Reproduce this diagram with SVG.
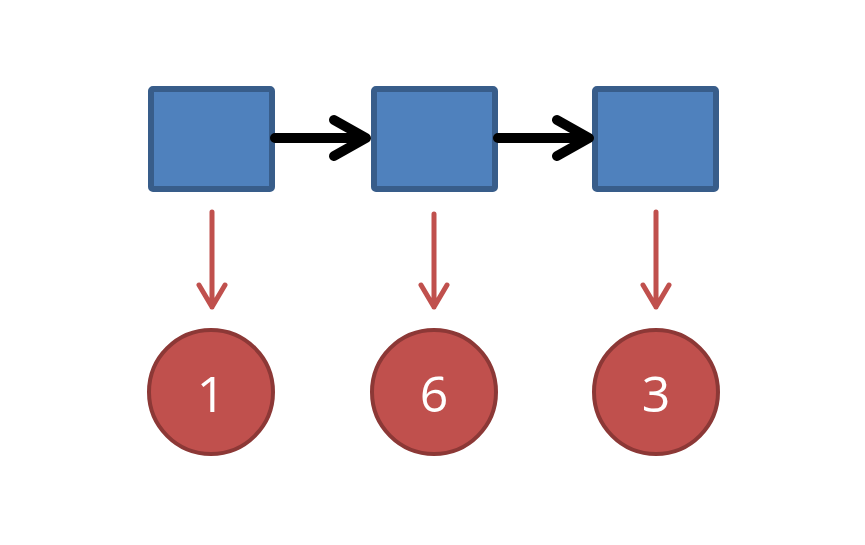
<svg xmlns="http://www.w3.org/2000/svg" width="865" height="545" viewBox="0 0 865 545">
<style>
.box{fill:#4F81BD;stroke:#385D8A;stroke-width:6;}
.circ{fill:#C0504D;stroke:#8C3836;stroke-width:4;}
.lbl{fill:#fff;font-family:"Open Sans","Liberation Sans",sans-serif;font-size:50px;text-anchor:middle;}
.blk{stroke:#000;stroke-width:10;fill:none;stroke-linecap:round;stroke-linejoin:round;}
.red{stroke:#C0504D;stroke-width:5;fill:none;stroke-linecap:round;stroke-linejoin:round;}
</style>
<rect width="865" height="545" fill="#fff"/>
<g id="node-a"><rect class="box" x="151" y="89" width="121" height="100" rx="2"/></g>
<g id="node-b"><rect class="box" x="374" y="89" width="121" height="100" rx="2"/></g>
<g id="node-c"><rect class="box" x="595" y="89" width="121" height="100" rx="2"/></g>
<g id="val-1"><circle class="circ" cx="211" cy="392" r="62"/><text class="lbl" x="211" y="412">1</text></g>
<g id="val-6"><circle class="circ" cx="434" cy="392" r="62"/><text class="lbl" x="434" y="412">6</text></g>
<g id="val-3"><circle class="circ" cx="656" cy="392" r="62"/><text class="lbl" x="656" y="412">3</text></g>
<g id="connectors">
<path class="blk" d="M275 138 H364 M334 120 L366 138 L334 156"/>
<path class="blk" d="M498 138 H587 M557 120 L589 138 L557 156"/>
<path class="red" d="M212 212 V307 M199 285 L212 307 L225 285"/>
<path class="red" d="M434 214 V307 M421 285 L434 307 L447 285"/>
<path class="red" d="M656 212 V307 M643 285 L656 307 L669 285"/>
</g>
</svg>
